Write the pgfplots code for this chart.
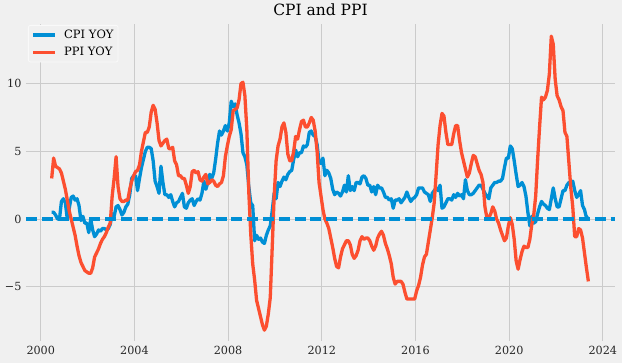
\documentclass[border=0pt]{standalone}
\usepackage{pgfplots}
\pgfplotsset{compat=1.18}
\usepackage{pgfplotstable}
\usepackage{fontspec}
\setmainfont{DejaVu Serif}
\definecolor{bgc}{HTML}{F0F0F0}
\definecolor{gridc}{HTML}{CBCBCB}
\definecolor{cpic}{HTML}{008FD5}
\definecolor{ppic}{HTML}{FC4F30}
\pgfplotstableread{
y m cpi ppi
2000 6 0.5 3.0
2000 7 0.5 4.5
2000 8 0.3 3.9
2000 9 0.0 3.8
2000 10 0.0 3.7
2000 11 1.3 3.4
2000 12 1.5 2.8
2001 1 1.2 2.2
2001 2 0.0 1.4
2001 3 0.8 0.6
2001 4 1.6 0.0
2001 5 1.7 -0.6
2001 6 1.4 -1.2
2001 7 1.5 -2.0
2001 8 1.0 -2.7
2001 9 -0.1 -3.2
2001 10 0.2 -3.5
2001 11 -0.3 -3.8
2001 12 -0.3 -3.9
2002 1 -1.0 -4.0
2002 2 0.0 -4.0
2002 3 -0.8 -3.6
2002 4 -1.3 -2.8
2002 5 -1.1 -2.5
2002 6 -0.8 -2.2
2002 7 -0.9 -1.8
2002 8 -0.7 -1.5
2002 9 -0.7 -1.3
2002 10 -0.8 -1.0
2002 11 -0.7 -0.6
2002 12 -0.4 -0.3
2003 1 0.4 1.7
2003 2 0.2 3.0
2003 3 0.9 4.6
2003 4 1.0 2.4
2003 5 0.7 1.5
2003 6 0.3 1.3
2003 7 0.5 1.3
2003 8 0.9 1.4
2003 9 1.1 1.4
2003 10 1.8 2.2
2003 11 3.0 2.8
2003 12 3.2 3.2
2004 1 3.2 3.5
2004 2 2.1 3.6
2004 3 3.0 4.0
2004 4 3.8 5.0
2004 5 4.4 5.7
2004 6 5.0 6.4
2004 7 5.3 6.4
2004 8 5.3 6.8
2004 9 5.2 7.9
2004 10 4.3 8.4
2004 11 2.8 8.1
2004 12 2.4 7.1
2005 1 1.9 5.8
2005 2 3.9 5.4
2005 3 2.7 5.6
2005 4 1.8 5.8
2005 5 1.8 5.9
2005 6 1.6 5.2
2005 7 1.8 5.2
2005 8 1.3 5.3
2005 9 0.9 4.3
2005 10 1.2 4.0
2005 11 1.3 3.2
2005 12 1.6 3.2
2006 1 1.9 3.0
2006 2 0.9 3.0
2006 3 0.8 2.5
2006 4 1.2 1.9
2006 5 1.4 2.4
2006 6 1.5 3.5
2006 7 1.0 3.6
2006 8 1.3 3.4
2006 9 1.5 3.5
2006 10 1.4 2.9
2006 11 1.9 2.8
2006 12 2.8 3.1
2007 1 2.2 3.3
2007 2 2.7 2.6
2007 3 3.3 2.7
2007 4 3.0 2.9
2007 5 3.4 2.8
2007 6 4.4 2.5
2007 7 5.6 2.4
2007 8 6.5 2.6
2007 9 6.2 2.7
2007 10 6.5 3.2
2007 11 6.9 4.6
2007 12 6.5 5.4
2008 1 7.1 6.1
2008 2 8.7 6.6
2008 3 8.3 8.0
2008 4 8.5 8.1
2008 5 7.7 8.2
2008 6 7.1 8.8
2008 7 6.3 10.0
2008 8 4.9 10.1
2008 9 4.6 9.1
2008 10 4.0 6.6
2008 11 2.4 2.0
2008 12 1.2 -1.1
2009 1 1.0 -3.3
2009 2 -1.6 -4.5
2009 3 -1.2 -6.0
2009 4 -1.5 -6.6
2009 5 -1.4 -7.2
2009 6 -1.7 -7.8
2009 7 -1.8 -8.2
2009 8 -1.2 -7.9
2009 9 -0.8 -7.0
2009 10 -0.5 -5.8
2009 11 0.6 -2.1
2009 12 1.9 1.7
2010 1 1.5 4.3
2010 2 2.7 5.4
2010 3 2.4 5.9
2010 4 2.8 6.8
2010 5 3.1 7.1
2010 6 2.9 6.4
2010 7 3.3 4.8
2010 8 3.5 4.3
2010 9 3.6 4.3
2010 10 4.4 5.0
2010 11 5.1 6.1
2010 12 4.6 5.9
2011 1 4.9 6.6
2011 2 4.9 7.2
2011 3 5.4 7.3
2011 4 5.3 6.8
2011 5 5.5 6.8
2011 6 6.4 7.1
2011 7 6.5 7.5
2011 8 6.2 7.3
2011 9 6.1 6.5
2011 10 5.5 5.0
2011 11 4.2 2.7
2011 12 4.1 1.7
2012 1 4.5 0.7
2012 2 3.2 0.0
2012 3 3.6 -0.3
2012 4 3.4 -0.7
2012 5 3.0 -1.4
2012 6 2.2 -2.1
2012 7 1.8 -2.9
2012 8 2.0 -3.5
2012 9 1.9 -3.6
2012 10 1.7 -2.8
2012 11 2.0 -2.2
2012 12 2.5 -1.9
2013 1 2.0 -1.6
2013 2 3.2 -1.6
2013 3 2.1 -1.9
2013 4 2.4 -2.6
2013 5 2.1 -2.9
2013 6 2.7 -2.7
2013 7 2.7 -2.3
2013 8 2.6 -1.6
2013 9 3.1 -1.3
2013 10 3.2 -1.5
2013 11 3.0 -1.4
2013 12 2.5 -1.4
2014 1 2.5 -1.6
2014 2 2.0 -2.0
2014 3 2.4 -2.3
2014 4 1.8 -2.0
2014 5 2.5 -1.4
2014 6 2.3 -1.1
2014 7 2.3 -0.9
2014 8 2.0 -1.2
2014 9 1.6 -1.8
2014 10 1.6 -2.2
2014 11 1.4 -2.7
2014 12 1.5 -3.3
2015 1 0.8 -4.3
2015 2 1.4 -4.8
2015 3 1.4 -4.6
2015 4 1.5 -4.6
2015 5 1.2 -4.6
2015 6 1.4 -4.8
2015 7 1.6 -5.4
2015 8 2.0 -5.9
2015 9 1.6 -5.9
2015 10 1.3 -5.9
2015 11 1.5 -5.9
2015 12 1.6 -5.9
2016 1 1.8 -5.3
2016 2 2.3 -4.9
2016 3 2.3 -4.3
2016 4 2.3 -3.4
2016 5 2.0 -2.8
2016 6 1.9 -2.6
2016 7 1.8 -1.7
2016 8 1.3 -0.8
2016 9 1.9 0.1
2016 10 2.1 1.2
2016 11 2.3 3.3
2016 12 2.1 5.5
2017 1 2.5 6.9
2017 2 0.8 7.8
2017 3 0.9 7.6
2017 4 1.2 6.4
2017 5 1.5 5.5
2017 6 1.5 5.5
2017 7 1.4 5.5
2017 8 1.8 6.3
2017 9 1.6 6.9
2017 10 1.9 6.9
2017 11 1.7 5.8
2017 12 1.8 4.9
2018 1 1.5 4.3
2018 2 2.9 3.7
2018 3 2.1 3.1
2018 4 1.8 3.4
2018 5 1.8 4.1
2018 6 1.9 4.7
2018 7 2.1 4.6
2018 8 2.3 4.1
2018 9 2.5 3.6
2018 10 2.5 3.3
2018 11 2.2 2.7
2018 12 1.9 0.9
2019 1 1.7 0.1
2019 2 1.5 0.1
2019 3 2.3 0.4
2019 4 2.5 0.9
2019 5 2.7 0.6
2019 6 2.7 0.0
2019 7 2.8 -0.3
2019 8 2.8 -0.8
2019 9 3.0 -1.2
2019 10 3.8 -1.6
2019 11 4.5 -1.4
2019 12 4.5 -0.5
2020 1 5.4 0.1
2020 2 5.2 -0.4
2020 3 4.3 -1.5
2020 4 3.3 -3.1
2020 5 2.4 -3.7
2020 6 2.5 -3.0
2020 7 2.7 -2.4
2020 8 2.4 -2.0
2020 9 1.7 -2.1
2020 10 0.5 -2.1
2020 11 -0.5 -1.5
2020 12 0.2 -0.4
2021 1 -0.3 0.3
2021 2 -0.2 1.7
2021 3 0.4 4.4
2021 4 0.9 6.8
2021 5 1.3 9.0
2021 6 1.1 8.8
2021 7 1.0 9.0
2021 8 0.8 9.5
2021 9 0.7 10.7
2021 10 1.5 13.5
2021 11 2.3 12.9
2021 12 1.5 10.3
2022 1 0.9 9.1
2022 2 0.9 8.8
2022 3 1.5 8.3
2022 4 2.1 8.0
2022 5 2.1 6.4
2022 6 2.5 6.1
2022 7 2.7 4.2
2022 8 2.5 2.3
2022 9 2.8 0.9
2022 10 2.1 -1.3
2022 11 1.6 -1.3
2022 12 1.8 -0.7
2023 1 2.1 -0.8
2023 2 1.0 -1.4
2023 3 0.7 -2.5
2023 4 0.1 -3.6
2023 5 0.2 -4.6
}\cpippi
\begin{document}
\begin{tikzpicture}[x=1pt,y=1pt]
\fill[bgc] (0,0) rectangle (622,363);
\useasboundingbox (0,0) rectangle (622,363);
\begin{axis}[
  at={(26pt,22pt)}, anchor=south west,
  scale only axis, width=589pt, height=317pt,
  xmin=1999.37, xmax=2024.52,
  ymin=-9.0, ymax=14.4,
  axis line style={draw=none},
  major tick length=0pt,
  xtick={2000,2004,2008,2012,2016,2020,2024},
  xticklabels={2000,2004,2008,2012,2016,2020,2024},
  ytick={-5,0,5,10},
  yticklabels={−5,0,5,10},
  tick label style={font=\fontsize{11.2}{13}\selectfont, text=black!85},
  xticklabel style={yshift=-2pt},
  yticklabel style={xshift=-1pt},
  grid=major,
  major grid style={gridc, line width=0.9pt},
  title={CPI and PPI},
  title style={font=\fontsize{15.5}{18}\selectfont, at={(0.5,1)}, anchor=south, yshift=-1pt},
  legend cell align=left,
  legend style={at={(0,1)}, anchor=north west, xshift=2pt, yshift=-1pt,
    fill=bgc, draw=white!60!bgc, line width=0.8pt, rounded corners=2pt,
    font=\fontsize{11.5}{13}\selectfont,
    inner xsep=3pt, inner ysep=3pt, row sep=4.5pt,
    nodes={inner sep=1.5pt}},
  legend image code/.code={\draw[#1] (0pt,0pt) -- (22pt,0pt); \path (28pt,0pt);},
  clip=true,
]
\addplot[cpic, line width=3.3pt, line join=round] table[x expr=\thisrow{y}+(\thisrow{m}-0.4)/12, y=cpi] {\cpippi};
\addlegendentry{CPI YOY}
\addplot[ppic, line width=3.3pt, line join=round] table[x expr=\thisrow{y}+(\thisrow{m}-0.4)/12, y=ppi] {\cpippi};
\addlegendentry{PPI YOY}
\addplot[cpic, line width=3.3pt, dash pattern=on 11pt off 4.8pt, forget plot] coordinates {(1999.37,0) (2024.52,0)};
\end{axis}
\end{tikzpicture}
\end{document}
